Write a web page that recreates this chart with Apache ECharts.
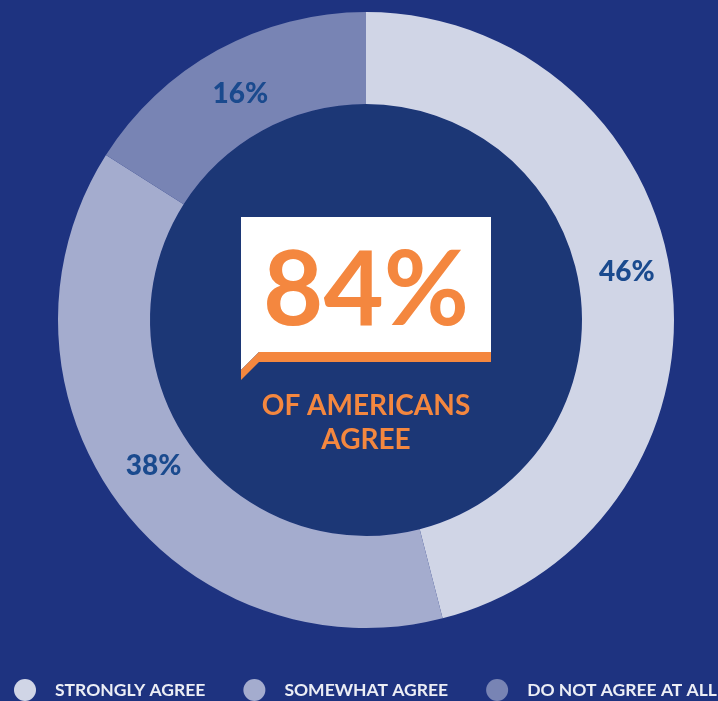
<!DOCTYPE html>
<html>
<head>
<meta charset="utf-8">
<script src="https://cdn.jsdelivr.net/npm/echarts@6/dist/echarts.min.js"></script>
<style>
html,body{margin:0;padding:0;background:#1e3380;}
#chart{width:718px;height:701px;}
</style>
</head>
<body>
<div id="chart"></div>
<script>
const categories = ['STRONGLY AGREE', 'SOMEWHAT AGREE', 'DO NOT AGREE AT ALL'];
const values = [46, 38, 16];
const colors = ['#d0d5e6', '#a4acce', '#7884b4'];
const headline = '84%';
const subline = 'OF AMERICANS\nAGREE';

const labelShift = [[-2, -15], [2, -10], [2, 6]];
const font = 'Lato, "Open Sans", sans-serif';

const chart = echarts.init(document.getElementById('chart'));
chart.setOption({
  backgroundColor: '#1e3380',
  animation: false,
  legend: {
    data: categories,
    left: 14,
    top: 679,
    width: 760,
    padding: 0,
    icon: 'circle',
    itemWidth: 22,
    itemHeight: 22,
    itemGap: 38,
    textStyle: {
      color: '#eceef5',
      fontFamily: font,
      fontWeight: 'bold',
      fontSize: 17.5,
      padding: [0, 0, 0, 14]
    }
  },
  series: [
    {
      type: 'pie',
      center: [366, 320],
      radius: [216, 308],
      startAngle: 90,
      clockwise: true,
      silent: true,
      label: {
        show: true,
        position: 'inside',
        formatter: '{c}%',
        color: '#1a4a8e',
        fontFamily: font,
        fontWeight: 900,
        fontSize: 28
      },
      labelLine: { show: false },
      labelLayout: function (p) {
        const s = labelShift[p.dataIndex] || [0, 0];
        return { dx: s[0], dy: s[1] };
      },
      data: categories.map((c, i) => ({
        name: c,
        value: values[i],
        itemStyle: { color: colors[i] }
      }))
    },
    {
      type: 'pie',
      center: [366, 320],
      radius: [0, 216],
      silent: true,
      z: 1,
      label: { show: false },
      labelLine: { show: false },
      data: [{ name: 'inner', value: 1, itemStyle: { color: '#1c3776' } }]
    }
  ],
  graphic: [
    {
      type: 'polygon',
      z: 100,
      shape: { points: [[241, 217], [491, 217], [491, 352], [259, 352], [241, 370]] },
      style: { fill: '#ffffff' }
    },
    {
      type: 'polygon',
      z: 101,
      shape: { points: [[491, 352], [259, 352], [241, 370], [241, 380], [259, 362], [491, 362]] },
      style: { fill: '#f4873f' }
    },
    {
      type: 'text',
      z: 102,
      x: 366,
      y: 291,
      style: {
        text: headline,
        fill: '#f4873f',
        font: 'bold 104px ' + font,
        align: 'center',
        verticalAlign: 'middle'
      }
    },
    {
      type: 'text',
      z: 102,
      x: 366,
      y: 423,
      style: {
        text: subline,
        fill: '#f4873f',
        font: 'bold 28px ' + font,
        lineHeight: 34,
        align: 'center',
        verticalAlign: 'middle'
      }
    }
  ]
});
</script>
</body>
</html>
